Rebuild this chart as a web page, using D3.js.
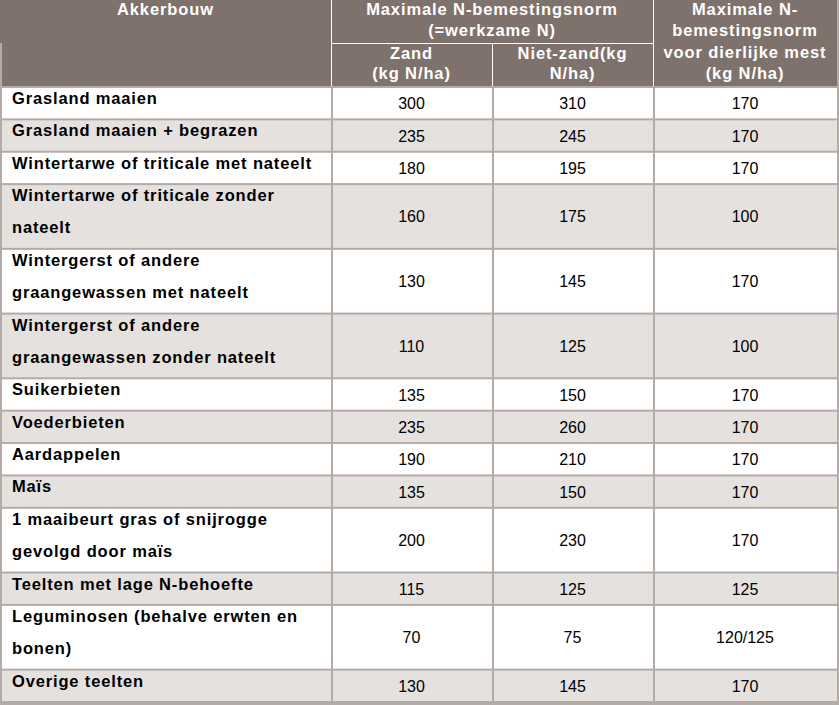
<!DOCTYPE html>
<html>
<head>
<meta charset="utf-8">
<script src="https://cdn.jsdelivr.net/npm/d3@7"></script>
<style>
    html, body { margin: 0; padding: 0; background: #fff; }
    svg { display: block; font-family: "Liberation Sans", Arial, sans-serif; }
</style>
</head>
<body>
<svg id="table" width="839" height="705"></svg>
<script>
'use strict';

// teelten (regels zoals in de bron afgebroken)
const gewassen = [
    ['Grasland maaien'],
    ['Grasland maaien + begrazen'],
    ['Wintertarwe of triticale met nateelt'],
    ['Wintertarwe of triticale zonder', 'nateelt'],
    ['Wintergerst of andere', 'graangewassen met nateelt'],
    ['Wintergerst of andere', 'graangewassen zonder nateelt'],
    ['Suikerbieten'],
    ['Voederbieten'],
    ['Aardappelen'],
    ['Maïs'],
    ['1 maaibeurt gras of snijrogge', 'gevolgd door maïs'],
    ['Teelten met lage N-behoefte'],
    ['Leguminosen (behalve erwten en', 'bonen)'],
    ['Overige teelten']
];
const zand = [300, 235, 180, 160, 130, 110, 135, 235, 190, 135, 200, 115, 70, 130];
const nietZand = [310, 245, 195, 175, 145, 125, 150, 260, 210, 150, 230, 125, 75, 145];
const dierlijkeMest = ['170', '170', '170', '100', '170', '100', '170', '170', '170', '170', '170', '125', '120/125', '170'];

const kopEerste = ['Akkerbouw'];
const kopGroep = ['Maximale N-bemestingsnorm', '(=werkzame N)'];
const kopZand = ['Zand', '(kg N/ha)'];
const kopNietZand = ['Niet-zand(kg', 'N/ha)'];
const kopMest = ['Maximale N-', 'bemestingsnorm', 'voor dierlijke mest', '(kg N/ha)'];

// layout
const W = 839, H = 705;
const colEdges = [0, 331, 492, 653, 837];
const headH = 86, subY = 43, bw = 2;
const brown = '#7f716b', lineGrey = '#b4aaa6', rowGrey = '#e5e1df';

const svg = d3.select('#table');

// cumulatieve regelposities
var starts = [], n = 0;
gewassen.forEach(g => { starts.push(n); n += g.length; });
const y = d3.scaleLinear().domain([0, n]).range([headH + bw, H - bw]);

const rows = gewassen.map((g, i) => ({
    lines: g,
    start: starts[i],
    end: starts[i] + g.length,
    vals: [zand[i], nietZand[i], dierlijkeMest[i]]
}));

// achtergrond = randkleur
svg.append('rect').attr('width', W).attr('height', H).attr('fill', lineGrey);

// kop
svg.append('rect').attr('x', 0).attr('y', 0)
    .attr('width', colEdges[4]).attr('height', headH).attr('fill', brown);
svg.append('rect').attr('x', 0).attr('y', subY)
    .attr('width', bw).attr('height', headH - subY).attr('fill', lineGrey);

const white = svg.append('g').attr('stroke', '#fff').attr('stroke-width', 1);
white.append('line').attr('x1', colEdges[1] + 0.5).attr('x2', colEdges[1] + 0.5).attr('y1', 0).attr('y2', headH);
white.append('line').attr('x1', colEdges[3] + 0.5).attr('x2', colEdges[3] + 0.5).attr('y1', 0).attr('y2', headH);
white.append('line').attr('x1', colEdges[2] + 0.5).attr('x2', colEdges[2] + 0.5).attr('y1', subY).attr('y2', headH);
white.append('line').attr('x1', colEdges[1]).attr('x2', colEdges[3]).attr('y1', subY + 0.5).attr('y2', subY + 0.5);

var headText = (lines, cx, baselines) => {
    svg.append('g').selectAll('text')
        .data(lines)
        .enter().append('text')
        .attr('x', cx)
        .attr('y', (d, i) => baselines[i])
        .attr('text-anchor', 'middle')
        .attr('fill', '#fff')
        .attr('font-weight', 'bold')
        .attr('font-size', 16.5)
        .attr('letter-spacing', 0.9)
        .text(d => d);
};
const mid = (a, b) => (colEdges[a] + colEdges[b]) / 2;
headText(kopEerste, mid(0, 1), [15]);
headText(kopGroep, mid(1, 3), [15, 36]);
headText(kopZand, mid(1, 2), [59, 79]);
headText(kopNietZand, mid(2, 3), [59, 79]);
headText(kopMest, mid(3, 4), [15, 36, 58, 79]);

// rijen
const row = svg.selectAll('.row')
    .data(rows)
    .enter().append('g')
    .attr('class', 'row');

[0, 1, 2, 3].forEach(c => {
    row.append('rect')
        .attr('x', colEdges[c] + bw)
        .attr('y', d => y(d.start))
        .attr('width', colEdges[c + 1] - colEdges[c] - bw)
        .attr('height', d => y(d.end) - y(d.start) - bw)
        .attr('fill', (d, i) => i % 2 ? rowGrey : '#fff');
});

row.each(function(d) {
    const g = d3.select(this);
    g.selectAll('text.label')
        .data(d.lines)
        .enter().append('text')
        .attr('class', 'label')
        .attr('x', 12)
        .attr('y', (t, k) => y(d.start + k) + 16)
        .attr('font-weight', 'bold')
        .attr('font-size', 16.5)
        .attr('letter-spacing', 0.85)
        .attr('fill', '#000')
        .text(t => t);

    const cy = (y(d.start) + y(d.end) - bw) / 2;
    g.selectAll('text.val')
        .data(d.vals)
        .enter().append('text')
        .attr('class', 'val')
        .attr('x', (v, k) => mid(k + 1, k + 2))
        .attr('y', cy + 6)
        .attr('text-anchor', 'middle')
        .attr('font-size', 16)
        .attr('fill', '#000')
        .text(v => v);
});
</script>
</body>
</html>
